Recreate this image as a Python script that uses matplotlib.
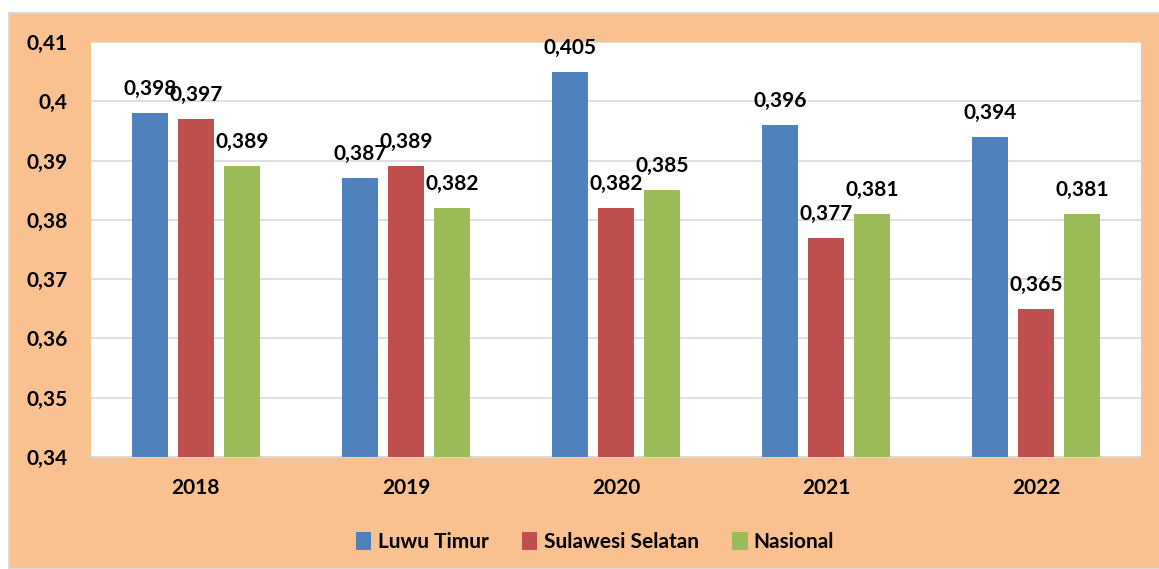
import numpy as np
import matplotlib.pyplot as plt
from matplotlib.patches import Rectangle

years = ['2018', '2019', '2020', '2021', '2022']
luwu_timur = [0.398, 0.387, 0.405, 0.396, 0.394]
sulsel = [0.397, 0.389, 0.382, 0.377, 0.365]
nasional = [0.389, 0.382, 0.385, 0.381, 0.381]
series_names = ['Luwu Timur', 'Sulawesi Selatan', 'Nasional']
yticks = [0.34, 0.35, 0.36, 0.37, 0.38, 0.39, 0.40, 0.41]
ytick_labels = ['0,34', '0,35', '0,36', '0,37', '0,38', '0,39', '0,4', '0,41']

colors = ['#4F81BD', '#C0504D', '#9BBB59']
W, H = 1159, 569

plt.rcParams['font.family'] = ['Lato', 'DejaVu Sans']
plt.rcParams['font.weight'] = 'bold'

fig = plt.figure(figsize=(W / 100, H / 100), dpi=100)
fig.patch.set_facecolor('white')
# orange chart background
fig.patches.append(Rectangle((9 / W, 0), 1, (H - 13) / H, transform=fig.transFigure,
                             facecolor='#F9C090', edgecolor='#D9D9D9', linewidth=1.5, zorder=-10))

ax = fig.add_axes([91 / W, 1 - 457 / H, (1141 - 91) / W, (457 - 42) / H])
ax.set_zorder(1)
ax.set_facecolor('white')

x = np.arange(len(years))
bw = 0.172
off = 0.22
for k, vals in enumerate([luwu_timur, sulsel, nasional]):
    pos = x + (k - 1) * off
    ax.bar(pos, np.array(vals) - 0.34, bw, bottom=0.34, color=colors[k],
           label=series_names[k], zorder=3)
    for xi, v in zip(pos, vals):
        ax.annotate(('%.3f' % v).replace('.', ','), (xi, v), xytext=(0, 13),
                    textcoords='offset points', ha='center', va='baseline',
                    fontsize=15, fontweight='bold', zorder=4)

ax.set_xlim(-0.5, len(years) - 0.5)
ax.set_ylim(0.34, 0.41)
ax.set_yticks(yticks)
ax.set_yticklabels(ytick_labels)
ax.set_xticks(x)
ax.set_xticklabels(years)
ax.tick_params(axis='y', length=0, pad=17, labelsize=15)
ax.tick_params(axis='x', length=0, pad=15, labelsize=15)
ax.yaxis.grid(True, color='#D9D9D9', linewidth=1.2, zorder=0)
ax.set_axisbelow(True)
for s in ['top', 'right', 'left']:
    ax.spines[s].set_visible(False)
ax.spines['bottom'].set_color('#D9D9D9')
ax.spines['bottom'].set_linewidth(1.5)

leg = fig.legend(loc='center', bbox_to_anchor=(595 / W, 1 - 542 / H), ncol=3,
                 frameon=False, fontsize=15, handlelength=0.75, handleheight=1.0,
                 handletextpad=0.3, columnspacing=1.6)

fig.savefig('out.png', dpi=100)
